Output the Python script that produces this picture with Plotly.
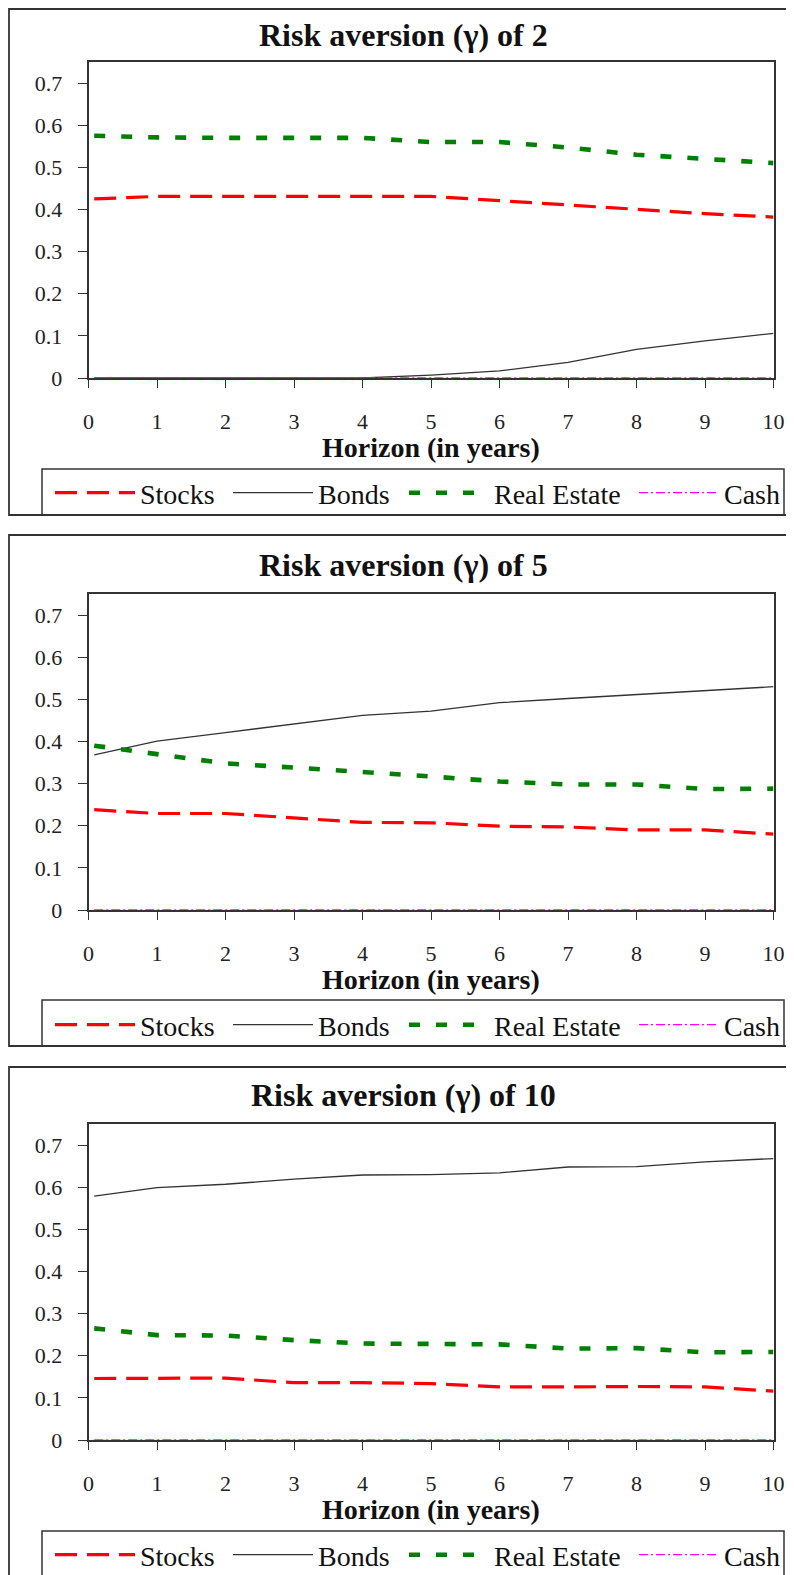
import plotly.graph_objects as go

# ---------------- data ----------------
horizon = [1 / 12, 1, 2, 3, 4, 5, 6, 7, 8, 9, 10]
x_tick_vals = [0, 1, 2, 3, 4, 5, 6, 7, 8, 9, 10]
x_tick_text = ["0", "1", "2", "3", "4", "5", "6", "7", "8", "9", "10"]
y_tick_vals = [0, 0.1, 0.2, 0.3, 0.4, 0.5, 0.6, 0.7]
y_tick_text = ["0", "0.1", "0.2", "0.3", "0.4", "0.5", "0.6", "0.7"]

gammas = [2, 5, 10]
series_names = ["Stocks", "Bonds", "Real Estate", "Cash"]

stocks_g2 = [0.425, 0.431, 0.431, 0.431, 0.431, 0.431, 0.421, 0.411, 0.401, 0.390, 0.382]
bonds_g2 = [0.0, 0.0, 0.0, 0.0, 0.0, 0.007, 0.017, 0.037, 0.068, 0.088, 0.106]
real_g2 = [0.575, 0.571, 0.570, 0.570, 0.570, 0.560, 0.560, 0.547, 0.530, 0.520, 0.510]
cash_g2 = [0, 0, 0, 0, 0, 0, 0, 0, 0, 0, 0]

stocks_g5 = [0.238, 0.229, 0.229, 0.218, 0.208, 0.207, 0.199, 0.197, 0.190, 0.190, 0.180]
bonds_g5 = [0.368, 0.401, 0.421, 0.441, 0.462, 0.472, 0.492, 0.502, 0.511, 0.521, 0.530]
real_g5 = [0.390, 0.370, 0.348, 0.338, 0.328, 0.317, 0.305, 0.298, 0.298, 0.287, 0.288]
cash_g5 = [0, 0, 0, 0, 0, 0, 0, 0, 0, 0, 0]

stocks_g10 = [0.146, 0.147, 0.147, 0.136, 0.136, 0.134, 0.126, 0.126, 0.127, 0.126, 0.116]
bonds_g10 = [0.579, 0.599, 0.607, 0.619, 0.629, 0.630, 0.634, 0.648, 0.649, 0.660, 0.668]
real_g10 = [0.265, 0.249, 0.248, 0.237, 0.229, 0.229, 0.227, 0.217, 0.218, 0.208, 0.209]
cash_g10 = [0, 0, 0, 0, 0, 0, 0, 0, 0, 0, 0]

panels_data = [
    [stocks_g2, bonds_g2, real_g2, cash_g2],
    [stocks_g5, bonds_g5, real_g5, cash_g5],
    [stocks_g10, bonds_g10, real_g10, cash_g10],
]

# ---------------- layout constants (page px) ----------------
W, H = 794, 1575
PAGE_OFF = 8  # default body margin of the html page
FONT = "Liberation Serif"
AX_COLOR = "#333333"

panel_tops = [9, 535, 1067]
panel_bottoms = [515, 1046, 1600]
panel_left = 9
plot_tops = [62, 594, 1124]
plot_bottoms = [378, 910, 1440]
legend_tops = [469, 1000, 1531]
legend_centers = [493, 1025, 1555]
title_centers = [35, 565, 1095]
xtitle_centers = [447, 979, 1509]
plot_left, plot_right = 88.5, 773.5
legend_left, legend_right = 42, 784
legend_text_x = [140, 318, 494, 724]
LEG_ITEM_W = 80

styles = [
    dict(color="#FF0000", width=3.2, dash="22px,10px"),
    dict(color="#333333", width=1.3, dash="solid"),
    dict(color="#008000", width=4.6, dash="11px,16px"),
    dict(color="#FF00FF", width=1.3, dash="9px,3px,2px,3px"),
]


def fy(px):
    return 1 - (px - PAGE_OFF) / H


def fx(px):
    return (px - PAGE_OFF) / W


fig = go.Figure()
shapes = []
annotations = []
layout = dict(
    template="none",
    width=W,
    height=H,
    autosize=False,
    margin=dict(l=0, r=0, t=0, b=0, pad=0, autoexpand=False),
    paper_bgcolor="white",
    plot_bgcolor="white",
    font=dict(family=FONT, color="#111111"),
    hovermode=False,
)

for i, g in enumerate(gammas):
    suffix = "" if i == 0 else str(i + 1)
    xa, ya = "x" + suffix, "y" + suffix
    for j, name in enumerate(series_names):
        idx = i * 4 + j
        leg = "legend" if idx == 0 else "legend" + str(idx + 1)
        fig.add_trace(
            go.Scatter(
                x=horizon,
                y=panels_data[i][j],
                mode="lines",
                name=name,
                line=styles[j],
                xaxis=xa,
                yaxis=ya,
                legend=leg,
                showlegend=True,
                hoverinfo="skip",
            )
        )
        layout[leg] = dict(
            x=fx(legend_text_x[j] - LEG_ITEM_W - 10),
            xanchor="left",
            y=fy(legend_centers[i]),
            yanchor="middle",
            orientation="h",
            bgcolor="rgba(0,0,0,0)",
            borderwidth=0,
            itemwidth=LEG_ITEM_W,
            font=dict(family=FONT, size=28, color="#111111"),
        )

    layout["xaxis" + suffix] = dict(
        domain=[fx(plot_left), fx(plot_right)],
        range=[0, 10],
        anchor=ya,
        automargin=False,
        tickmode="array",
        tickvals=x_tick_vals,
        ticktext=x_tick_text,
        ticks="outside",
        ticklen=8,
        tickwidth=1.3,
        tickcolor=AX_COLOR,
        ticklabelstandoff=15,
        showline=True,
        linecolor=AX_COLOR,
        linewidth=1.5,
        mirror=True,
        showgrid=False,
        zeroline=False,
        layer="below traces",
        tickfont=dict(family=FONT, size=22, color="#222222"),
        fixedrange=True,
    )
    layout["yaxis" + suffix] = dict(
        domain=[fy(plot_bottoms[i]), fy(plot_tops[i])],
        range=[0, 0.75],
        anchor=xa,
        automargin=False,
        tickmode="array",
        tickvals=y_tick_vals,
        ticktext=y_tick_text,
        ticks="outside",
        ticklen=9,
        tickwidth=1.3,
        tickcolor=AX_COLOR,
        ticklabelstandoff=11,
        showline=True,
        linecolor=AX_COLOR,
        linewidth=1.5,
        mirror=True,
        showgrid=False,
        zeroline=False,
        layer="below traces",
        tickfont=dict(family=FONT, size=22, color="#222222"),
        fixedrange=True,
    )

    # panel frame
    shapes.append(dict(type="rect", xref="paper", yref="paper",
                       x0=fx(panel_left), x1=fx(810), y0=fy(panel_bottoms[i]), y1=fy(panel_tops[i]),
                       line=dict(color=AX_COLOR, width=1.8), fillcolor="rgba(0,0,0,0)", layer="below"))
    # legend frame
    shapes.append(dict(type="rect", xref="paper", yref="paper",
                       x0=fx(legend_left), x1=fx(legend_right),
                       y0=fy(panel_bottoms[i]), y1=fy(legend_tops[i]),
                       line=dict(color=AX_COLOR, width=1.5), fillcolor="rgba(0,0,0,0)", layer="below"))

    annotations.append(dict(
        text="<b>Risk aversion (γ) of " + str(g) + "</b>",
        xref="paper", yref="paper", x=fx(403), y=fy(title_centers[i]),
        xanchor="center", yanchor="middle", showarrow=False,
        font=dict(family=FONT, size=32, color="#111111"),
    ))
    annotations.append(dict(
        text="<b>Horizon (in years)</b>",
        xref="paper", yref="paper", x=fx((plot_left + plot_right) / 2), y=fy(xtitle_centers[i]),
        xanchor="center", yanchor="middle", showarrow=False,
        font=dict(family=FONT, size=28, color="#111111"),
    ))

layout["shapes"] = shapes
layout["annotations"] = annotations
fig.update_layout(**layout)

fig.write_html("out.html")
